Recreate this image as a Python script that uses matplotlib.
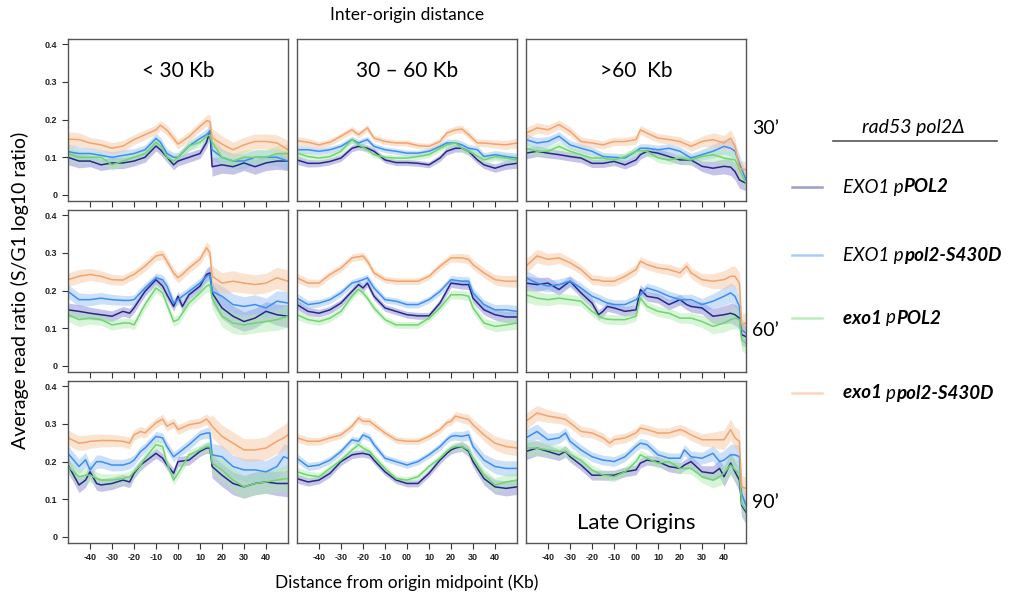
import matplotlib
matplotlib.use("Agg")
import matplotlib.pyplot as plt
from matplotlib.lines import Line2D
from matplotlib.offsetbox import TextArea, HPacker, AnnotationBbox
import numpy as np

plt.rcParams['font.family'] = ['Lato', 'DejaVu Sans']

# series per panel:
#   a = EXO1 pPOL2, b = EXO1 ppol2-S430D, c = exo1 pPOL2, d = exo1 ppol2-S430D
#   s = half width of the shaded band
# panels named <time>_<inter-origin class>: 1 = <30 Kb, 2 = 30-60 Kb, 3 = >60 Kb

### 30'
x_30_1 = [-50, -45, -40, -35, -30, -25, -20, -15, -10, -8, -5, -2, 0, 5, 10, 13, 14.5, 15.5, 20, 25, 30, 35, 40, 45, 50]
d_30_1 = [0.148, 0.147, 0.138, 0.133, 0.124, 0.13, 0.147, 0.16, 0.173, 0.185, 0.172, 0.15, 0.135, 0.155, 0.182, 0.197, 0.195, 0.152, 0.135, 0.12, 0.133, 0.142, 0.142, 0.138, 0.12]
b_30_1 = [0.115, 0.11, 0.11, 0.105, 0.1, 0.105, 0.11, 0.12, 0.15, 0.14, 0.11, 0.1, 0.1, 0.13, 0.15, 0.16, 0.17, 0.12, 0.1, 0.09, 0.09, 0.1, 0.1, 0.1, 0.09]
a_30_1 = [0.1, 0.09, 0.09, 0.08, 0.085, 0.085, 0.09, 0.1, 0.13, 0.12, 0.1, 0.08, 0.09, 0.1, 0.11, 0.14, 0.17, 0.075, 0.08, 0.075, 0.085, 0.075, 0.085, 0.09, 0.09]
c_30_1 = [0.11, 0.1, 0.1, 0.1, 0.08, 0.09, 0.1, 0.11, 0.14, 0.13, 0.1, 0.09, 0.1, 0.13, 0.14, 0.155, 0.16, 0.14, 0.1, 0.09, 0.1, 0.1, 0.1, 0.11, 0.11]
s_30_1 = [0.02, 0.018, 0.015, 0.015, 0.015, 0.015, 0.013, 0.013, 0.013, 0.013, 0.013, 0.013, 0.013, 0.013, 0.013, 0.015, 0.018, 0.025, 0.022, 0.02, 0.02, 0.02, 0.02, 0.022, 0.025]

x_30_2 = [-50, -45, -40, -35, -30, -25, -22, -18, -15, -10, -5, 0, 5, 10, 15, 18, 22, 25, 28, 32, 35, 40, 45, 50]
d_30_2 = [0.144, 0.14, 0.133, 0.14, 0.156, 0.173, 0.16, 0.178, 0.151, 0.142, 0.138, 0.138, 0.131, 0.129, 0.142, 0.164, 0.173, 0.175, 0.16, 0.138, 0.138, 0.135, 0.133, 0.138]
b_30_2 = [0.12, 0.12, 0.116, 0.12, 0.129, 0.147, 0.138, 0.147, 0.129, 0.12, 0.116, 0.111, 0.111, 0.116, 0.129, 0.138, 0.138, 0.133, 0.124, 0.12, 0.102, 0.107, 0.102, 0.098]
c_30_2 = [0.111, 0.102, 0.098, 0.102, 0.116, 0.147, 0.133, 0.12, 0.107, 0.1, 0.098, 0.098, 0.102, 0.107, 0.124, 0.133, 0.138, 0.124, 0.116, 0.104, 0.093, 0.102, 0.098, 0.093]
a_30_2 = [0.093, 0.084, 0.084, 0.089, 0.098, 0.124, 0.129, 0.124, 0.116, 0.093, 0.086, 0.086, 0.084, 0.08, 0.098, 0.116, 0.124, 0.124, 0.116, 0.093, 0.08, 0.071, 0.08, 0.084]
s_30_2 = [0.012, 0.01, 0.009, 0.009, 0.009, 0.009, 0.009, 0.009, 0.008, 0.008, 0.008, 0.008, 0.008, 0.008, 0.009, 0.01, 0.01, 0.01, 0.01, 0.01, 0.01, 0.011, 0.012, 0.013]

x_30_3 = [-50, -45, -40, -35, -30, -25, -20, -15, -10, -5, 0, 2, 5, 10, 15, 20, 25, 30, 35, 40, 43, 45, 47, 50]
d_30_3 = [0.164, 0.178, 0.173, 0.187, 0.169, 0.142, 0.138, 0.133, 0.142, 0.142, 0.147, 0.173, 0.164, 0.151, 0.147, 0.142, 0.129, 0.142, 0.147, 0.138, 0.151, 0.129, 0.071, 0.067]
b_30_3 = [0.147, 0.138, 0.142, 0.156, 0.133, 0.124, 0.116, 0.102, 0.1, 0.098, 0.116, 0.124, 0.124, 0.12, 0.124, 0.116, 0.098, 0.107, 0.116, 0.129, 0.124, 0.116, 0.084, 0.04]
c_30_3 = [0.124, 0.116, 0.116, 0.129, 0.116, 0.107, 0.098, 0.098, 0.093, 0.102, 0.116, 0.118, 0.116, 0.098, 0.093, 0.098, 0.093, 0.102, 0.107, 0.098, 0.095, 0.093, 0.067, 0.031]
a_30_3 = [0.111, 0.116, 0.111, 0.107, 0.102, 0.098, 0.084, 0.084, 0.089, 0.08, 0.093, 0.107, 0.116, 0.111, 0.102, 0.093, 0.093, 0.076, 0.071, 0.076, 0.074, 0.062, 0.04, 0.031]
s_30_3 = [0.015, 0.014, 0.013, 0.012, 0.012, 0.012, 0.011, 0.011, 0.011, 0.011, 0.012, 0.012, 0.012, 0.012, 0.012, 0.012, 0.013, 0.014, 0.018, 0.02, 0.022, 0.022, 0.022, 0.02]

### 60'
x_60_1 = [-50, -45, -40, -35, -30, -25, -22, -20, -15, -10, -7, -5, -2, 0, 2, 5, 10, 13, 14.5, 15.5, 20, 25, 30, 35, 40, 45, 50]
d_60_1 = [0.229, 0.238, 0.243, 0.238, 0.229, 0.228, 0.238, 0.243, 0.265, 0.292, 0.296, 0.278, 0.247, 0.234, 0.243, 0.26, 0.283, 0.314, 0.3, 0.238, 0.22, 0.225, 0.22, 0.216, 0.22, 0.234, 0.225]
b_60_1 = [0.198, 0.176, 0.176, 0.18, 0.176, 0.174, 0.174, 0.176, 0.207, 0.234, 0.229, 0.212, 0.167, 0.176, 0.185, 0.198, 0.22, 0.238, 0.243, 0.198, 0.185, 0.163, 0.158, 0.163, 0.154, 0.172, 0.167]
a_60_1 = [0.149, 0.145, 0.14, 0.136, 0.132, 0.145, 0.14, 0.154, 0.198, 0.229, 0.212, 0.189, 0.158, 0.185, 0.158, 0.189, 0.212, 0.243, 0.247, 0.194, 0.154, 0.132, 0.118, 0.127, 0.145, 0.136, 0.132]
c_60_1 = [0.136, 0.123, 0.127, 0.123, 0.109, 0.114, 0.114, 0.109, 0.163, 0.207, 0.194, 0.163, 0.118, 0.123, 0.14, 0.167, 0.194, 0.212, 0.216, 0.18, 0.132, 0.114, 0.109, 0.114, 0.118, 0.123, 0.132]
s_60_1 = [0.018, 0.018, 0.016, 0.015, 0.014, 0.013, 0.013, 0.013, 0.013, 0.013, 0.013, 0.013, 0.013, 0.013, 0.013, 0.013, 0.013, 0.016, 0.02, 0.028, 0.028, 0.028, 0.026, 0.026, 0.026, 0.028, 0.03]

x_60_2 = [-50, -45, -40, -35, -30, -25, -22, -20, -18, -15, -10, -5, 0, 5, 10, 15, 20, 25, 28, 30, 35, 40, 45, 50]
d_60_2 = [0.234, 0.22, 0.22, 0.243, 0.26, 0.287, 0.29, 0.292, 0.278, 0.247, 0.229, 0.225, 0.225, 0.225, 0.238, 0.265, 0.287, 0.287, 0.283, 0.269, 0.247, 0.229, 0.225, 0.225]
b_60_2 = [0.18, 0.163, 0.167, 0.176, 0.194, 0.22, 0.225, 0.229, 0.234, 0.207, 0.176, 0.172, 0.163, 0.163, 0.176, 0.198, 0.229, 0.225, 0.225, 0.194, 0.163, 0.149, 0.149, 0.145]
a_60_2 = [0.163, 0.145, 0.14, 0.149, 0.167, 0.198, 0.216, 0.207, 0.22, 0.185, 0.154, 0.145, 0.136, 0.133, 0.133, 0.167, 0.22, 0.216, 0.216, 0.18, 0.149, 0.136, 0.13, 0.13]
c_60_2 = [0.136, 0.123, 0.118, 0.127, 0.145, 0.185, 0.203, 0.194, 0.18, 0.154, 0.123, 0.109, 0.109, 0.109, 0.127, 0.154, 0.189, 0.189, 0.185, 0.154, 0.114, 0.105, 0.109, 0.114]
s_60_2 = [0.013, 0.011, 0.01, 0.01, 0.01, 0.01, 0.01, 0.01, 0.01, 0.01, 0.009, 0.009, 0.009, 0.009, 0.009, 0.01, 0.011, 0.012, 0.013, 0.013, 0.013, 0.014, 0.015, 0.016]

x_60_3 = [-50, -45, -40, -35, -30, -25, -20, -17, -15, -13, -10, -5, 0, 2, 5, 10, 15, 20, 23, 25, 30, 35, 40, 43, 45, 47, 48, 50]
d_60_3 = [0.265, 0.292, 0.283, 0.287, 0.274, 0.256, 0.229, 0.228, 0.225, 0.225, 0.225, 0.238, 0.256, 0.278, 0.269, 0.26, 0.256, 0.247, 0.265, 0.247, 0.229, 0.225, 0.229, 0.238, 0.238, 0.22, 0.109, 0.114]
b_60_3 = [0.234, 0.22, 0.212, 0.216, 0.225, 0.207, 0.185, 0.178, 0.172, 0.167, 0.163, 0.163, 0.176, 0.189, 0.207, 0.198, 0.185, 0.176, 0.176, 0.176, 0.163, 0.172, 0.185, 0.194, 0.185, 0.158, 0.096, 0.087]
a_60_3 = [0.22, 0.216, 0.22, 0.203, 0.225, 0.194, 0.167, 0.136, 0.145, 0.158, 0.154, 0.145, 0.149, 0.203, 0.185, 0.18, 0.163, 0.176, 0.163, 0.158, 0.154, 0.132, 0.136, 0.14, 0.136, 0.127, 0.083, 0.078]
c_60_3 = [0.189, 0.18, 0.176, 0.18, 0.176, 0.172, 0.145, 0.133, 0.127, 0.124, 0.123, 0.123, 0.132, 0.18, 0.158, 0.145, 0.14, 0.127, 0.127, 0.127, 0.118, 0.105, 0.114, 0.123, 0.127, 0.123, 0.069, 0.06]
s_60_3 = [0.02, 0.018, 0.016, 0.015, 0.014, 0.013, 0.013, 0.013, 0.013, 0.013, 0.013, 0.013, 0.013, 0.013, 0.013, 0.013, 0.014, 0.014, 0.014, 0.015, 0.016, 0.02, 0.024, 0.026, 0.028, 0.028, 0.028, 0.028]

### 90'
x_90_1 = [-50, -45, -42, -40, -37, -35, -30, -25, -22, -20, -17, -15, -10, -7, -5, -2, 0, 5, 10, 13, 14.5, 15.5, 20, 25, 30, 35, 40, 45, 48, 50]
d_90_1 = [0.263, 0.249, 0.251, 0.254, 0.255, 0.256, 0.256, 0.254, 0.249, 0.271, 0.28, 0.276, 0.303, 0.313, 0.294, 0.303, 0.285, 0.298, 0.303, 0.313, 0.303, 0.294, 0.267, 0.249, 0.231, 0.231, 0.236, 0.254, 0.263, 0.271]
b_90_1 = [0.222, 0.187, 0.205, 0.178, 0.2, 0.2, 0.191, 0.191, 0.196, 0.204, 0.227, 0.236, 0.267, 0.263, 0.24, 0.213, 0.222, 0.245, 0.271, 0.276, 0.276, 0.218, 0.213, 0.187, 0.178, 0.178, 0.173, 0.187, 0.213, 0.209]
a_90_1 = [0.191, 0.138, 0.151, 0.173, 0.142, 0.138, 0.142, 0.151, 0.146, 0.169, 0.191, 0.2, 0.222, 0.209, 0.191, 0.169, 0.2, 0.204, 0.227, 0.236, 0.236, 0.187, 0.164, 0.142, 0.133, 0.142, 0.146, 0.142, 0.142, 0.142]
c_90_1 = [0.187, 0.16, 0.164, 0.164, 0.155, 0.151, 0.151, 0.155, 0.16, 0.173, 0.191, 0.209, 0.245, 0.24, 0.196, 0.151, 0.169, 0.218, 0.231, 0.24, 0.24, 0.196, 0.178, 0.151, 0.133, 0.142, 0.146, 0.151, 0.154, 0.155]
s_90_1 = [0.02, 0.02, 0.019, 0.018, 0.018, 0.017, 0.016, 0.015, 0.015, 0.014, 0.014, 0.013, 0.013, 0.013, 0.013, 0.013, 0.013, 0.013, 0.013, 0.014, 0.016, 0.03, 0.03, 0.03, 0.03, 0.03, 0.03, 0.032, 0.034, 0.036]

x_90_2 = [-50, -45, -40, -35, -30, -25, -22, -20, -17, -15, -10, -5, 0, 5, 10, 15, 18, 20, 22, 25, 28, 30, 35, 40, 45, 50]
d_90_2 = [0.263, 0.254, 0.254, 0.263, 0.271, 0.294, 0.316, 0.307, 0.307, 0.298, 0.276, 0.258, 0.254, 0.254, 0.267, 0.285, 0.303, 0.307, 0.321, 0.316, 0.312, 0.298, 0.271, 0.249, 0.24, 0.236]
b_90_2 = [0.209, 0.187, 0.191, 0.204, 0.227, 0.258, 0.254, 0.271, 0.263, 0.245, 0.209, 0.2, 0.191, 0.2, 0.218, 0.24, 0.258, 0.267, 0.269, 0.267, 0.271, 0.24, 0.204, 0.187, 0.182, 0.182]
c_90_2 = [0.173, 0.164, 0.16, 0.182, 0.204, 0.231, 0.245, 0.236, 0.227, 0.213, 0.182, 0.155, 0.151, 0.16, 0.187, 0.209, 0.227, 0.236, 0.24, 0.24, 0.231, 0.209, 0.164, 0.138, 0.146, 0.151]
a_90_2 = [0.155, 0.146, 0.151, 0.169, 0.2, 0.218, 0.221, 0.222, 0.218, 0.204, 0.173, 0.151, 0.142, 0.142, 0.169, 0.204, 0.221, 0.231, 0.236, 0.24, 0.227, 0.2, 0.155, 0.133, 0.129, 0.133]
s_90_2 = [0.012, 0.011, 0.01, 0.01, 0.01, 0.01, 0.01, 0.01, 0.01, 0.01, 0.009, 0.009, 0.009, 0.009, 0.009, 0.01, 0.01, 0.011, 0.012, 0.013, 0.014, 0.015, 0.017, 0.019, 0.02, 0.02]

x_90_3 = [-50, -45, -40, -35, -32, -30, -25, -20, -15, -12, -10, -5, 0, 2, 5, 10, 15, 20, 22, 25, 30, 35, 38, 40, 43, 45, 47, 48, 50]
d_90_3 = [0.307, 0.329, 0.321, 0.316, 0.312, 0.303, 0.28, 0.276, 0.263, 0.249, 0.258, 0.263, 0.276, 0.289, 0.285, 0.276, 0.276, 0.285, 0.281, 0.271, 0.258, 0.258, 0.258, 0.258, 0.285, 0.263, 0.254, 0.133, 0.129]
b_90_3 = [0.263, 0.28, 0.258, 0.263, 0.276, 0.254, 0.231, 0.213, 0.204, 0.202, 0.2, 0.213, 0.24, 0.249, 0.245, 0.218, 0.209, 0.209, 0.231, 0.213, 0.209, 0.222, 0.2, 0.204, 0.218, 0.218, 0.213, 0.115, 0.084]
c_90_3 = [0.236, 0.236, 0.231, 0.227, 0.227, 0.218, 0.204, 0.178, 0.164, 0.162, 0.16, 0.173, 0.2, 0.218, 0.209, 0.196, 0.2, 0.182, 0.182, 0.182, 0.16, 0.151, 0.16, 0.169, 0.191, 0.178, 0.169, 0.088, 0.071]
a_90_3 = [0.227, 0.236, 0.227, 0.218, 0.227, 0.213, 0.191, 0.164, 0.164, 0.164, 0.164, 0.173, 0.178, 0.196, 0.204, 0.2, 0.187, 0.182, 0.191, 0.2, 0.173, 0.169, 0.182, 0.16, 0.196, 0.173, 0.151, 0.084, 0.066]
s_90_3 = [0.022, 0.02, 0.017, 0.015, 0.015, 0.014, 0.014, 0.013, 0.013, 0.013, 0.013, 0.013, 0.013, 0.013, 0.013, 0.013, 0.014, 0.014, 0.014, 0.015, 0.016, 0.02, 0.024, 0.026, 0.028, 0.028, 0.03, 0.03, 0.03]

panel_titles = ['< 30 Kb', '30 \u2013 60 Kb', '>60  Kb']
time_labels = ['30\u2019', '60\u2019', '90\u2019']
xtick_vals = [-40, -30, -20, -10, 0, 10, 20, 30, 40]
xtick_labels = ['-40', '-30', '-20', '-10', '00', '10', '20', '30', '40']
ytick_vals = [0, 0.1, 0.2, 0.3, 0.4]
ytick_labels = ['0', '0.1', '0.2', '0.3', '0.4']

panels = [
    [(x_30_1, a_30_1, b_30_1, c_30_1, d_30_1, s_30_1),
     (x_30_2, a_30_2, b_30_2, c_30_2, d_30_2, s_30_2),
     (x_30_3, a_30_3, b_30_3, c_30_3, d_30_3, s_30_3)],
    [(x_60_1, a_60_1, b_60_1, c_60_1, d_60_1, s_60_1),
     (x_60_2, a_60_2, b_60_2, c_60_2, d_60_2, s_60_2),
     (x_60_3, a_60_3, b_60_3, c_60_3, d_60_3, s_60_3)],
    [(x_90_1, a_90_1, b_90_1, c_90_1, d_90_1, s_90_1),
     (x_90_2, a_90_2, b_90_2, c_90_2, d_90_2, s_90_2),
     (x_90_3, a_90_3, b_90_3, c_90_3, d_90_3, s_90_3)],
]

# colours: line, band
line_cols = ['#28288c', '#3b8ef2', '#6fd66f', '#f4a36b']
band_cols = ['#7f7ccc', '#8fbcf5', '#aaeaa8', '#f8c29c']

W, H = 1014.0, 600.0
col_left = [68, 297, 526]
col_w = 220
row_top = [39, 210, 381]
row_h = 162

fig = plt.figure(figsize=(W / 100, H / 100), dpi=100)

for r in range(3):
    for c in range(3):
        ax = fig.add_axes([col_left[c] / W, 1 - (row_top[r] + row_h) / H, col_w / W, row_h / H])
        x, a, b, cc, d, s = panels[r][c]
        x = np.array(x)
        s = np.array(s)
        for k, y in enumerate([a, b, cc, d]):
            y = np.array(y)
            ax.fill_between(x, y - s, y + s, color=band_cols[k], alpha=0.45, lw=0)
        for k, y in enumerate([a, b, cc, d]):
            ax.plot(x, y, color=line_cols[k], lw=1.1)
        ax.set_xlim(-50, 50)
        ax.set_ylim(-0.016, 0.414)
        for sp in ax.spines.values():
            sp.set_color('#555555')
            sp.set_linewidth(1.0)
        ax.set_xticks(xtick_vals)
        ax.tick_params(direction='out', length=4, width=0.8, color='#333333')
        if r == 2:
            ax.set_xticklabels(xtick_labels, fontsize=6.5, fontweight='bold',
                               family='Liberation Sans', color='#222222')
        else:
            ax.set_xticklabels([])
        if c == 0:
            ax.set_yticks(ytick_vals)
            ax.set_yticklabels(ytick_labels, fontsize=6.5, fontweight='bold',
                               family='Liberation Sans', color='#222222')
        else:
            ax.set_yticks([])
        if r == 0:
            ax.text(0.5, 0.8, panel_titles[c], transform=ax.transAxes,
                    ha='center', va='center', fontsize=15)

# row labels (time points)
for r in range(3):
    ys = [128, 330, 503][r]
    fig.text(752 / W, 1 - ys / H, time_labels[r], fontsize=14, ha='left', va='center')

fig.text((col_left[2] + col_w / 2) / W, 1 - 523 / H, 'Late Origins', fontsize=16,
         ha='center', va='center')

fig.text(407 / W, 1 - 15 / H, 'Inter-origin distance', fontsize=12.5, ha='center', va='center')
fig.text(407 / W, 1 - 583 / H, 'Distance from origin midpoint (Kb)', fontsize=12.5,
         ha='center', va='center')
fig.text(20 / W, 1 - 290 / H, 'Average read ratio (S/G1 log10 ratio)', fontsize=14,
         rotation=90, ha='center', va='center')

# legend
fig.text(913 / W, 1 - 128 / H, 'rad53 pol2\u0394', fontsize=14, style='italic',
         ha='center', va='center')
fig.add_artist(Line2D([833 / W, 997 / W], [1 - 141 / H] * 2, transform=fig.transFigure,
                      color='#555555', lw=1.2))

legend_rows = [
    [('EXO1 p', 'normal'), ('POL2', 'bold')],
    [('EXO1 p', 'normal'), ('pol2-S430D', 'bold')],
    [('exo1 ', 'bold'), ('p', 'normal'), ('POL2', 'bold')],
    [('exo1 ', 'bold'), ('p', 'normal'), ('pol2-S430D', 'bold')],
]
legend_y = [187, 255, 318, 393]
for k, parts in enumerate(legend_rows):
    yy = 1 - legend_y[k] / H
    fig.add_artist(Line2D([792 / W, 822 / W], [yy, yy], transform=fig.transFigure,
                          color=line_cols[k], alpha=0.45, lw=1.8))
    boxes = [TextArea(t, textprops=dict(fontsize=13.5, style='italic', fontweight=w,
                                        family=['Lato', 'DejaVu Sans']))
             for t, w in parts]
    pack = HPacker(children=boxes, pad=0, sep=0, align='baseline')
    ab = AnnotationBbox(pack, (843 / W, yy), xycoords='figure fraction',
                        box_alignment=(0, 0.5), frameon=False, pad=0)
    fig.add_artist(ab)

fig.savefig('out.png', dpi=100)
